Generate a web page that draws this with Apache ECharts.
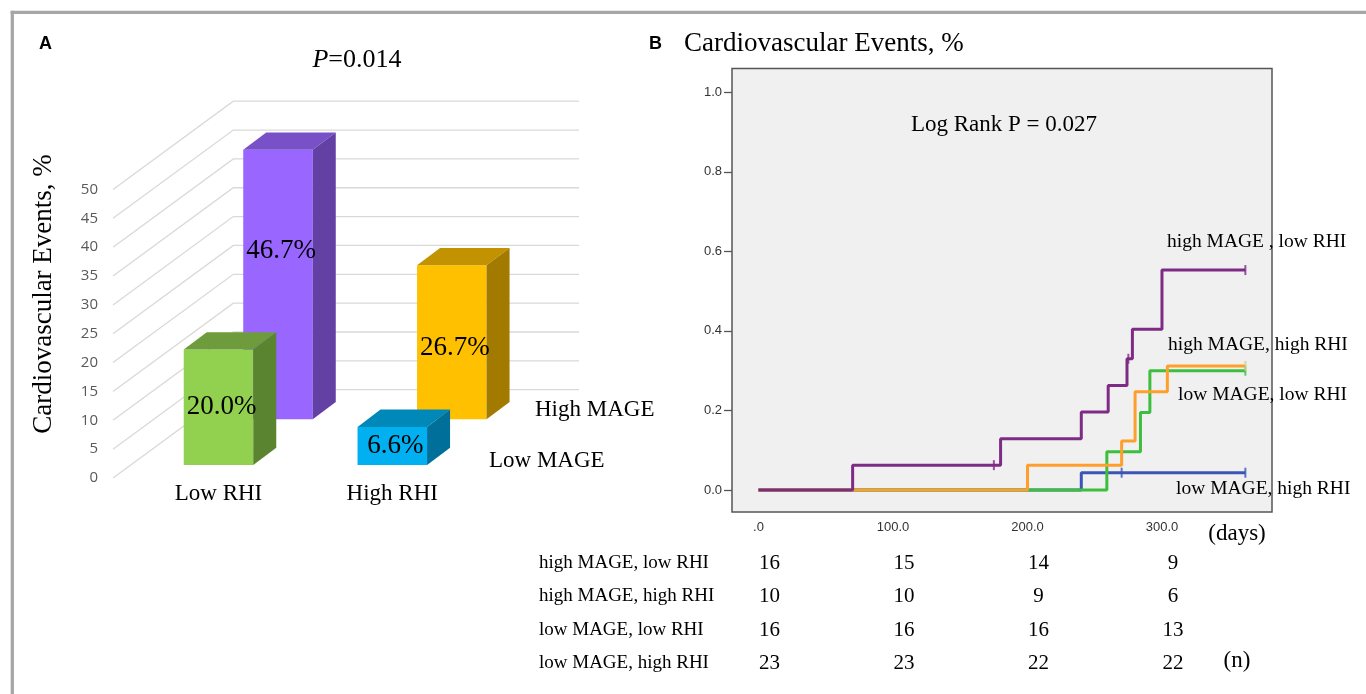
<!DOCTYPE html>
<html>
<head>
<meta charset="utf-8">
<title>Cardiovascular events</title>
<script src="https://cdn.jsdelivr.net/npm/echarts@6/dist/echarts.min.js"></script>
<style>
html, body { margin: 0; padding: 0; background: #fff; }
#main { width: 1366px; height: 694px; }
</style>
</head>
<body>
<div id="main"></div>
<script>
// ---- panel A: 3D bars ----
const rhiGroups = ['Low RHI', 'High RHI'];
const mageRows = ['High MAGE', 'Low MAGE'];
const highMageEvents = [46.7, 26.7];
const lowMageEvents = [20.0, 6.6];
const pctTicks = [0, 5, 10, 15, 20, 25, 30, 35, 40, 45, 50];

// ---- panel B: Kaplan-Meier curves ----
const highLowDays = [0, 70, 180, 240, 260, 274, 278, 300, 362];
const highLowRisk = [0, 0.0625, 0.129, 0.196, 0.263, 0.330, 0.404, 0.553, 0.553];
const highLowCensor = [175, 275, 362];

const highHighDays = [0, 200, 270, 280, 304, 362];
const highHighRisk = [0, 0.0625, 0.123, 0.247, 0.312, 0.312];
const highHighCensor = [362];

const lowLowDays = [0, 259, 284, 291, 362];
const lowLowRisk = [0, 0.096, 0.195, 0.300, 0.300];
const lowLowCensor = [362];

const lowHighDays = [0, 240, 362];
const lowHighRisk = [0, 0.0435, 0.0435];
const lowHighCensor = [270, 362];

const dayTicks = [0, 100, 200, 300];
const riskTicks = [0, 0.2, 0.4, 0.6, 0.8, 1.0];

// numbers at risk
const atRiskNames = ['high MAGE, low RHI', 'high MAGE, high RHI', 'low MAGE, low RHI', 'low MAGE, high RHI'];
const atRiskHighLow = [16, 15, 14, 9];
const atRiskHighHigh = [10, 10, 9, 6];
const atRiskLowLow = [16, 16, 16, 13];
const atRiskLowHigh = [23, 23, 22, 22];

const SERIF = 'Liberation Serif';
const SANS = 'Liberation Sans';

// cuboid look
const faceColors = { 'High MAGE': ['#9966FF', '#FFC000'], 'Low MAGE': ['#92D050', '#00B0F0'] };
const topColors = { 'High MAGE': ['#7850C8', '#C39200'], 'Low MAGE': ['#6E9C3C', '#0089B8'] };
const sideColors = { 'High MAGE': ['#6340A4', '#A27A00'], 'Low MAGE': ['#5B8431', '#00709A'] };
const DEPTH = [23, -17.3];              // bar depth
const ROW_SHIFT = { 'High MAGE': [59.5, -58.7], 'Low MAGE': [0, -13] };

function cuboid(name) {
  return function (params, api) {
    const i = api.value(0);
    const v = api.value(1);
    const base = api.coord([i, 0]);
    const top = api.coord([i, v]);
    const w = api.size([1, 0])[0] * 0.4;
    const s = ROW_SHIFT[name];
    const x0 = base[0] - w / 2 + s[0], x1 = x0 + w;
    const yb = base[1] + s[1], yt = top[1] + s[1];
    const dx = DEPTH[0], dy = DEPTH[1];
    let ly = (yt + yb) / 2;
    if (name === 'High MAGE') {
      // keep the label in the part not hidden by the front bar
      const fs = ROW_SHIFT['Low MAGE'];
      const cover = api.coord([i, lowMageEvents[i]])[1] + fs[1] + dy;
      ly = (yt + Math.min(yb, cover)) / 2 + 10;
    }
    return {
      type: 'group',
      children: [
        { type: 'polygon', shape: { points: [[x0, yt], [x1, yt], [x1, yb], [x0, yb]] },
          style: { fill: faceColors[name][i] } },
        { type: 'polygon', shape: { points: [[x0, yt], [x0 + dx, yt + dy], [x1 + dx, yt + dy], [x1, yt]] },
          style: { fill: topColors[name][i] } },
        { type: 'polygon', shape: { points: [[x1, yt], [x1 + dx, yt + dy], [x1 + dx, yb + dy], [x1, yb]] },
          style: { fill: sideColors[name][i] } },
        { type: 'text', x: (x0 + x1) / 2 + 3, y: ly,
          style: { text: v.toFixed(1) + '%', fontFamily: SERIF, fontSize: 27, fill: '#000',
                   align: 'center', verticalAlign: 'middle' } }
      ]
    };
  };
}

function stepAt(days, risk, t) {
  let k = 0;
  for (let j = 0; j < days.length; j++) if (days[j] <= t) k = j;
  return risk[k];
}

const curves = [
  { name: 'low MAGE, high RHI', days: lowHighDays, risk: lowHighRisk, censor: lowHighCensor, color: '#3A55B5', mark: '#3A55B5' },
  { name: 'low MAGE, low RHI', days: lowLowDays, risk: lowLowRisk, censor: lowLowCensor, color: '#3DBE3D', mark: '#3DBE3D' },
  { name: 'high MAGE, high RHI', days: highHighDays, risk: highHighRisk, censor: highHighCensor, color: '#FF9E2C', mark: '#D6CC8C' },
  { name: 'high MAGE, low RHI', days: highLowDays, risk: highLowRisk, censor: highLowCensor, color: '#7E2B85', mark: '#7E2B85' }
];

const kmSeries = [];
curves.forEach(function (c) {
  kmSeries.push({
    type: 'line', name: c.name, xAxisIndex: 1, yAxisIndex: 1, step: 'end',
    showSymbol: false, data: c.days.map(function (d, j) { return [d, c.risk[j]]; }),
    lineStyle: { color: c.color, width: 3 }, itemStyle: { color: c.color }, z: 3
  });
  kmSeries.push({
    type: 'scatter', name: c.name + ' censored', xAxisIndex: 1, yAxisIndex: 1,
    symbol: 'rect', symbolSize: [2, 10],
    data: c.censor.map(function (t) { return [t, stepAt(c.days, c.risk, t)]; }),
    itemStyle: { color: c.mark }, z: 4
  });
});

const atRiskTable = [atRiskHighLow, atRiskHighHigh, atRiskLowLow, atRiskLowHigh];

const chart = echarts.init(document.getElementById('main'), null, { renderer: 'canvas' });

const option = {
  animation: false,
  backgroundColor: '#fff',
  grid: [
    { left: 131.6, top: 189.5, width: 347.6, height: 288.5 },
    { left: 732, top: 68.5, width: 540, height: 443.5, show: true,
      backgroundColor: '#F0F0F0', borderColor: '#555', borderWidth: 1.5 }
  ],
  xAxis: [
    { type: 'category', gridIndex: 0, data: rhiGroups,
      axisLine: { show: false }, axisTick: { show: false }, splitLine: { show: false },
      axisLabel: { fontFamily: SERIF, fontSize: 23, color: '#000', margin: 4 } },
    { type: 'value', gridIndex: 1, min: -19.7, max: 381.8,
      axisLine: { show: false, onZero: false }, axisTick: { show: false }, splitLine: { show: false },
      axisLabel: { customValues: dayTicks, fontFamily: SANS, fontSize: 13, color: '#333', margin: 9,
        formatter: function (v) { return v === 0 ? '.0' : v.toFixed(1); } } }
  ],
  yAxis: [
    { type: 'value', gridIndex: 0, min: 0, max: 50, interval: 5,
      axisLine: { show: false }, axisTick: { show: false }, splitLine: { show: false },
      axisLabel: { fontFamily: 'Open Sans', fontSize: 15, color: '#595959', margin: 33.6 } },
    { type: 'value', gridIndex: 1, min: -0.0553, max: 1.0598,
      axisLine: { show: false, onZero: false }, splitLine: { show: false },
      axisTick: { show: true, inside: false, customValues: riskTicks, length: 8, lineStyle: { color: '#555', width: 1.3 } },
      axisLabel: { customValues: riskTicks, fontFamily: SANS, fontSize: 13, color: '#333', margin: 10,
        formatter: function (v) { return v.toFixed(1); } } }
  ],
  series: [
    {
      type: 'custom', name: 'walls', xAxisIndex: 0, yAxisIndex: 0, clip: false, z: 1,
      data: pctTicks.map(function (v) { return [0, v]; }),
      renderItem: function (params, api) {
        const cs = params.coordSys;
        const y = api.coord([0, api.value(1)])[1];
        const x0 = cs.x - 18.6;
        return { type: 'polyline',
          shape: { points: [[x0, y], [x0 + 120.3, y - 88.3], [cs.x + 447.4, y - 88.3]] },
          style: { stroke: '#D9D9D9', lineWidth: 1.3, fill: null } };
      }
    },
    { type: 'custom', name: mageRows[0], xAxisIndex: 0, yAxisIndex: 0, clip: false, z: 2,
      data: highMageEvents.map(function (v, i) { return [i, v]; }), renderItem: cuboid(mageRows[0]) },
    { type: 'custom', name: mageRows[1], xAxisIndex: 0, yAxisIndex: 0, clip: false, z: 3,
      data: lowMageEvents.map(function (v, i) { return [i, v]; }), renderItem: cuboid(mageRows[1]) }
  ].concat(kmSeries).concat([
    {
      type: 'custom', name: 'at risk', xAxisIndex: 1, yAxisIndex: 1, clip: false, z: 5,
      data: atRiskNames.map(function (n, r) { return [0, 0, r]; }),
      renderItem: function (params, api) {
        const cs = params.coordSys;
        const r = params.dataIndex;
        const y = cs.y + cs.height + 51 + r * 33.5;
        const kids = [{ type: 'text', x: 539, y: y,
          style: { text: atRiskNames[r], fontFamily: SERIF, fontSize: 19, fill: '#000', align: 'left', verticalAlign: 'middle' } }];
        atRiskTable[r].forEach(function (n, c) {
          const x = api.coord([dayTicks[c], 0])[0] + 11;
          kids.push({ type: 'text', x: x, y: y,
            style: { text: String(n), fontFamily: SERIF, fontSize: 21, fill: '#000', align: 'center', verticalAlign: 'middle' } });
        });
        return { type: 'group', children: kids };
      }
    }
  ]),
  graphic: [
    { type: 'line', shape: { x1: 10.7, y1: 12.3, x2: 1366, y2: 12.3 }, style: { stroke: '#A6A6A6', lineWidth: 3.3 } },
    { type: 'line', shape: { x1: 12.3, y1: 10.7, x2: 12.3, y2: 694 }, style: { stroke: '#A6A6A6', lineWidth: 3.3 } },
    { type: 'text', x: 39, y: 44, style: { text: 'A', fontFamily: SANS, fontWeight: 'bold', fontSize: 18, fill: '#000', verticalAlign: 'middle' } },
    { type: 'text', x: 649, y: 44, style: { text: 'B', fontFamily: SANS, fontWeight: 'bold', fontSize: 18, fill: '#000', verticalAlign: 'middle' } },
    { type: 'text', x: 357, y: 60, style: { text: '{i|P}=0.014', fontFamily: SERIF, fontSize: 26, fill: '#000',
        align: 'center', verticalAlign: 'middle', rich: { i: { fontStyle: 'italic', fontFamily: SERIF, fontSize: 26 } } } },
    { type: 'text', x: 44, y: 294, rotation: Math.PI / 2,
      style: { text: 'Cardiovascular Events, %', fontFamily: SERIF, fontSize: 27, fill: '#000', align: 'center', verticalAlign: 'middle' } },
    { type: 'text', x: 535, y: 410, style: { text: mageRows[0], fontFamily: SERIF, fontSize: 23, fill: '#000', verticalAlign: 'middle' } },
    { type: 'text', x: 489, y: 461, style: { text: mageRows[1], fontFamily: SERIF, fontSize: 23, fill: '#000', verticalAlign: 'middle' } },
    { type: 'text', x: 684, y: 44, style: { text: 'Cardiovascular Events, %', fontFamily: SERIF, fontSize: 27, fill: '#000', verticalAlign: 'middle' } },
    { type: 'text', x: 1004, y: 125, style: { text: 'Log Rank P = 0.027', fontFamily: SERIF, fontSize: 23, fill: '#000', align: 'center', verticalAlign: 'middle' } },
    { type: 'text', x: 1167, y: 242, style: { text: 'high MAGE , low RHI', fontFamily: SERIF, fontSize: 19.5, fill: '#000', verticalAlign: 'middle' } },
    { type: 'text', x: 1168, y: 345, style: { text: 'high MAGE, high RHI', fontFamily: SERIF, fontSize: 19.5, fill: '#000', verticalAlign: 'middle' } },
    { type: 'text', x: 1178, y: 395, style: { text: 'low MAGE, low RHI', fontFamily: SERIF, fontSize: 19.5, fill: '#000', verticalAlign: 'middle' } },
    { type: 'text', x: 1176, y: 489, style: { text: 'low MAGE, high RHI', fontFamily: SERIF, fontSize: 19.5, fill: '#000', verticalAlign: 'middle' } },
    { type: 'text', x: 1237, y: 534, style: { text: '(days)', fontFamily: SERIF, fontSize: 23, fill: '#000', align: 'center', verticalAlign: 'middle' } },
    { type: 'text', x: 1237, y: 661, style: { text: '(n)', fontFamily: SERIF, fontSize: 23, fill: '#000', align: 'center', verticalAlign: 'middle' } }
  ]
};

chart.setOption(option);
</script>
</body>
</html>
